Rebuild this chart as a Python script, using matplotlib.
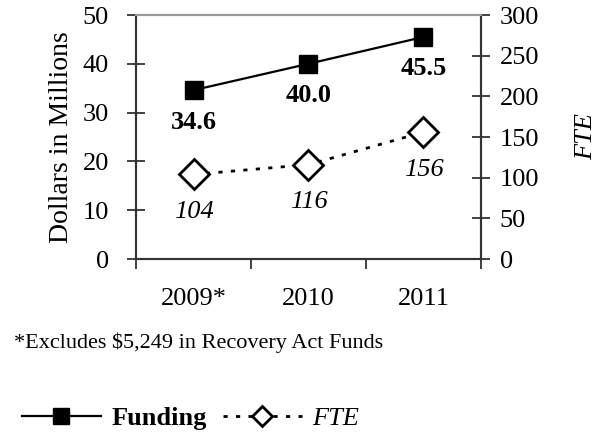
import matplotlib.pyplot as plt
from matplotlib.lines import Line2D

plt.rcParams['font.family'] = ['Liberation Serif', 'DejaVu Serif']

# Datos
years = ['2009*', '2010', '2011']
funding = [34.6, 40.0, 45.5]      # millones de dólares
fte = [104, 116, 156]
funding_labels = ['34.6', '40.0', '45.5']
fte_labels = ['104', '116', '156']

fig = plt.figure(figsize=(6.03, 4.33), dpi=100)
ax = fig.add_axes([136/603, 1-259/433, (481-136)/603, (259-15)/433])
ax2 = ax.twinx()

x = [0.5, 1.5, 2.5]

# Funding
ax.plot(x, funding, color='black', lw=1.6, marker='s', ms=13,
        markerfacecolor='black', zorder=3)
for xi, v, t in zip(x, funding, funding_labels):
    ax.annotate(t, (xi, v), xytext=(0, -23), textcoords='offset points',
                ha='center', va='center', fontsize=19, fontweight='bold')

# FTE
ax2.plot(x, fte, color='black', lw=2, linestyle=(0, (1.5, 3)), marker='D',
         ms=15, markerfacecolor='white', markeredgewidth=2, zorder=3)
for xi, v, t in zip(x, fte, fte_labels):
    ax2.annotate(t, (xi, v), xytext=(0, -27), textcoords='offset points',
                 ha='center', va='center', fontsize=19, fontstyle='italic')

ax.set_xlim(0, 3)
ax.set_ylim(0, 50)
ax2.set_ylim(0, 300)
ax.set_yticks(range(0, 51, 10))
ax2.set_yticks(range(0, 301, 50))
ax.set_xticks([0, 1, 2, 3])
ax.set_xticklabels([])
ax.set_xticks(x, minor=True)
ax.set_xticklabels(years, minor=True)

ax.tick_params(axis='y', direction='inout', length=13, width=1.3,
               color='#333333', labelsize=19, pad=13)
ax2.tick_params(axis='y', direction='inout', length=13, width=1.3,
                color='#333333', labelsize=19, pad=7)
ax.tick_params(axis='x', which='major', direction='out', length=7,
               width=1.3, color='#333333')
ax.tick_params(axis='x', which='minor', length=0, labelsize=19, pad=21)

for a in (ax, ax2):
    a.spines['top'].set_color('#999999')
    a.spines['left'].set_color('#333333')
    a.spines['right'].set_color('#333333')
    a.spines['bottom'].set_color('#333333')
    for s in a.spines.values():
        s.set_linewidth(1.5)

ax.set_ylabel('Dollars in Millions', fontsize=20, labelpad=6)
ax2.set_ylabel('FTE', fontsize=19, fontstyle='italic', labelpad=26)

fig.text(14/603, 1-343/433, r'*Excludes \$5,249 in Recovery Act Funds',
         fontsize=16, va='center', ha='left')

# Leyenda
h1 = Line2D([], [], color='black', lw=1.6, marker='s', ms=11,
            markerfacecolor='black')
h2 = Line2D([], [], color='black', lw=2, linestyle=(0, (1.5, 3)), marker='D',
            ms=10, markerfacecolor='white', markeredgewidth=2)
leg = fig.legend([h1, h2], ['Funding', 'FTE'], loc='center left',
                 bbox_to_anchor=(-2/603, 1-418/433), ncol=2, frameon=False,
                 fontsize=19, handlelength=3.0, columnspacing=0.6,
                 handletextpad=0.4)
leg.get_texts()[0].set_fontweight('bold')
leg.get_texts()[1].set_fontstyle('italic')

plt.savefig('out.png', dpi=100)
